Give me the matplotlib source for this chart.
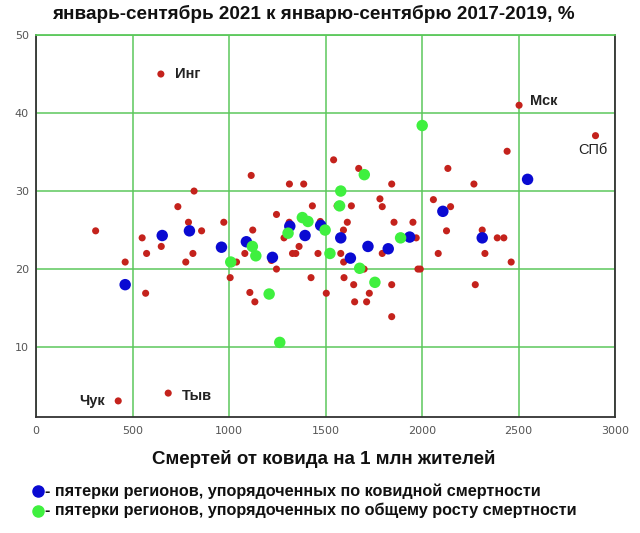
import matplotlib
matplotlib.use("Agg")
import matplotlib.pyplot as plt

# ---- data ----
title = "январь-сентябрь 2021 к январю-сентябрю 2017-2019, %"
xlabel = "Смертей от ковида на 1 млн жителей"
legend_blue = "- пятерки регионов, упорядоченных по ковидной смертности"
legend_green = "- пятерки регионов, упорядоченных по общему росту смертности"

red_x = [309, 819, 735, 790, 858, 973, 550, 649, 573, 813, 776, 462, 568, 1039, 1006,
         1115, 1082, 1108, 1542, 1672, 1313, 1387, 1843, 1560, 1634, 1782, 1794, 1432,
         1246, 1123, 1312, 1285, 1473, 1593, 1613, 1855, 1953, 1794, 1329, 1346, 1363,
         1461, 1579, 1594, 1246, 1979, 1425, 1596, 1646, 1843, 1504, 1727, 1134, 1651,
         1713, 1843, 1220, 1700, 2503, 2899, 2441, 2134, 2269, 2059, 2148, 2127, 2312,
         2390, 2424, 1970, 2084, 2326, 2462, 1991, 2276, 647, 685, 426]
red_y = [24.9, 30, 28, 26, 24.9, 26, 24, 22.9, 22, 22, 20.9, 20.9, 16.9, 20.9, 18.9,
         32, 22, 17, 34, 32.9, 30.9, 30.9, 30.9, 28.1, 28.1, 29, 28, 28.1,
         27, 25, 26, 24, 26.1, 25, 26, 26, 26, 22, 22, 22, 22.9,
         22, 22, 20.9, 20, 20, 18.9, 18.9, 18, 18, 16.9, 16.9, 15.8, 15.8,
         15.8, 13.9, 21.1, 20, 41, 37.1, 35.1, 32.9, 30.9, 28.9, 28, 24.9, 25,
         24, 24, 24, 22, 22, 20.9, 20, 18, 45, 4.1, 3.1]

blue_x = [462, 654, 795, 961, 1090, 1225, 1315, 1394, 1475, 1579, 1629, 1720, 1825,
          1936, 2108, 2312, 2547]
blue_y = [18, 24.3, 24.9, 22.8, 23.5, 21.5, 25.5, 24.3, 25.6, 24, 21.4, 22.9, 22.6,
          24.1, 27.4, 24, 31.5]

green_x = [1009, 1121, 1139, 1208, 1263, 1306, 1380, 1409, 1498, 1523, 1573, 1579,
           1677, 1701, 1756, 1889, 2001]
green_y = [20.9, 22.9, 21.7, 16.8, 10.6, 24.6, 26.6, 26.1, 25, 22, 28.1, 30,
           20.1, 32.1, 18.3, 24, 38.4]

labels = ["Инг", "Мск", "СПб", "Чук", "Тыв"]
label_x = [647, 2503, 2899, 426, 685]
label_y = [45, 41, 37.1, 3.1, 4.1]

xticks = [0, 500, 1000, 1500, 2000, 2500, 3000]
yticks = [10, 20, 30, 40, 50]

# ---- figure ----
plt.rcParams['font.family'] = ['Liberation Sans', 'DejaVu Sans']
fig = plt.figure(figsize=(6.4, 5.33), dpi=100)
ax = fig.add_axes([0.05625, 0.2171, 0.9047, 0.7172])

RED = "#c4221c"
BLUE = "#0a0ad2"
GREEN = "#3ff03f"
GRID = "#5cc85c"

ax.set_xlim(0, 3000)
ax.set_ylim(1, 50)
ax.set_xticks(xticks)
ax.set_yticks(yticks)
ax.grid(True, color=GRID, linewidth=1.1)
ax.set_axisbelow(True)
ax.tick_params(length=0, colors="#555555", labelsize=8)
ax.tick_params(axis='x', pad=6)
ax.tick_params(axis='y', pad=5)
for lab in ax.get_xticklabels() + ax.get_yticklabels():
    lab.set_family('DejaVu Sans')
for s in ax.spines.values():
    s.set_color("#333333")
    s.set_linewidth(1.3)
ax.spines['top'].set_color(GRID)

ax.scatter(red_x, red_y, s=26, color=RED, edgecolors='none', zorder=3)
ax.scatter(blue_x, blue_y, s=68, color=BLUE, edgecolors='none', zorder=4)
ax.scatter(green_x, green_y, s=68, color=GREEN, edgecolors='none', zorder=5)

offsets = {"Инг": (10, 0, 'left', 'bold'),
           "Мск": (8, 3.3, 'left', 'bold'),
           "СПб": (-2, -10.6, 'center', 'normal'),
           "Чук": (-9.4, 0, 'right', 'bold'),
           "Тыв": (9.6, -2, 'left', 'bold')}
for t, x, y in zip(labels, label_x, label_y):
    dx, dy, ha, w = offsets[t]
    ax.annotate(t, (x, y), xytext=(dx, dy), textcoords='offset points',
                ha=ha, va='center', fontsize=10.5, fontweight=w, color="#222222")

fig.text(0.49, 0.974, title, ha='center', va='center', fontsize=13.6,
         fontweight='bold', color="#111111")
fig.text(0.505, 1 - 459 / 533, xlabel, ha='center', va='center', fontsize=13.5,
         fontweight='bold', color="#111111")

# legend rows
for i, (col, txt) in enumerate([(BLUE, legend_blue), (GREEN, legend_green)]):
    yy = 1 - (491 + 19.5 * i) / 533
    fig.lines.append(plt.Line2D([37.6 / 640], [yy], marker='o', markersize=8,
                                color=col, linestyle='none',
                                transform=fig.transFigure, figure=fig))
    fig.text(45 / 640, yy, txt, ha='left', va='center', fontsize=11.7,
             fontweight='bold', color="#111111")

fig.savefig("out.png", dpi=100)
